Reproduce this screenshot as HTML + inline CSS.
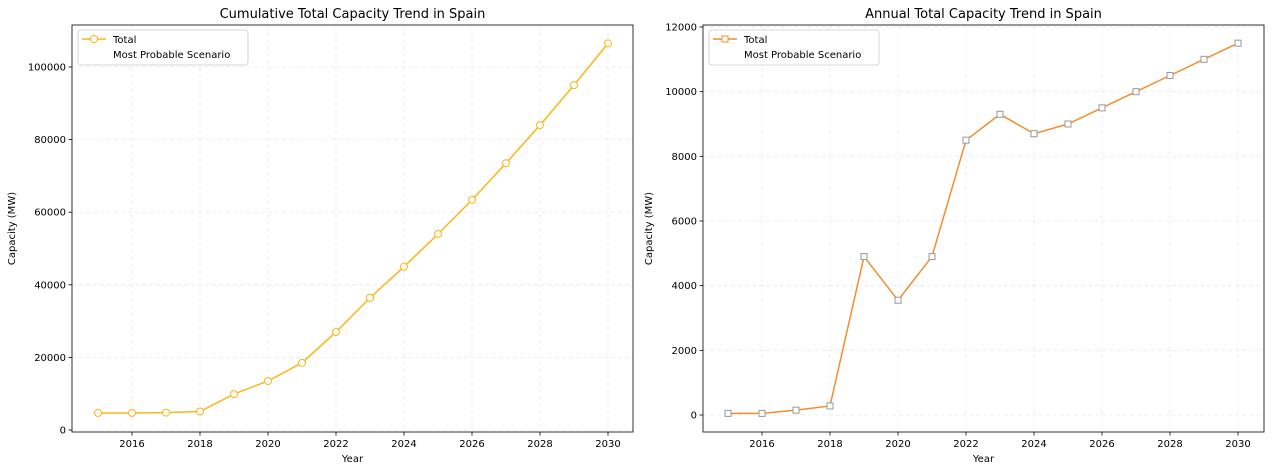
<!DOCTYPE html>
<html><head><meta charset="utf-8"><style>
body{margin:0;background:#fff;font-family:"DejaVu Sans","Liberation Sans",sans-serif;}
svg text{font-family:"DejaVu Sans","Liberation Sans",sans-serif;fill:#000;}
</style></head><body>
<svg id="chart" width="1272" height="472" xmlns="http://www.w3.org/2000/svg"></svg>
<script>
const years = [2015,2016,2017,2018,2019,2020,2021,2022,2023,2024,2025,2026,2027,2028,2029,2030];
const cumulativeValues = [4700,4700,4800,5100,9900,13500,18500,27000,36400,45000,54000,63400,73500,84000,95000,106500];
const annualValues = [50,50,150,280,4900,3550,4900,8500,9300,8700,9000,9500,10000,10500,11000,11500];
const xTicks = [2016,2018,2020,2022,2024,2026,2028,2030];
const cumTicks = [0,20000,40000,60000,80000,100000];
const annTicks = [0,2000,4000,6000,8000,10000,12000];

const svg = document.getElementById('chart');
const NS = 'http://www.w3.org/2000/svg';
function mk(tag, attrs, parent){const e=document.createElementNS(NS,tag);for(const k in attrs)e.setAttribute(k,attrs[k]);(parent||svg).appendChild(e);return e;}

function panel(cfg){
  const g = mk('g',{});
  
  
  const L=cfg.x0,R=cfg.x1,T=25,B=432;
  const xs = y => cfg.xa + (y-2015)*cfg.xk;
  const ys = v => cfg.y0 - v*cfg.yk;
  xTicks.forEach(t=>{const l=mk('line',{x1:xs(t),x2:xs(t),y1:T,y2:B,stroke:'#e8e8e8','stroke-dasharray':'4,3','stroke-width':0.8},g);
    });
  cfg.ticks.forEach(t=>{const l=mk('line',{x1:L,x2:R,y1:ys(t),y2:ys(t),stroke:'#e8e8e8','stroke-dasharray':'4,3','stroke-width':0.8},g);
    });
  const box=mk('rect',{x:L,y:T,width:R-L,height:B-T,fill:'none',stroke:'#000','stroke-width':0.8},g);
  
  xTicks.forEach(t=>{mk('line',{x1:xs(t),x2:xs(t),y1:B,y2:B+3.5,stroke:'#000','stroke-width':0.8},g);
    const tx=mk('text',{x:xs(t),y:B+15,'font-size':10,'text-anchor':'middle'},g);tx.textContent=t;
    });
  cfg.ticks.forEach(t=>{mk('line',{x1:L-3.5,x2:L,y1:ys(t),y2:ys(t),stroke:'#000','stroke-width':0.8},g);
    const tx=mk('text',{x:L-6,y:ys(t)+3.5,'font-size':10,'text-anchor':'end'},g);tx.textContent=t;
    });
  const title=mk('text',{x:(L+R)/2,y:18,'font-size':13,'text-anchor':'middle'},g);title.textContent=cfg.title;
  
  const xl=mk('text',{x:(L+R)/2,y:462,'font-size':10,'text-anchor':'middle'},g);xl.textContent='Year';
  
  const yx=cfg.ylx, yy=(T+B)/2;
  const yl=mk('text',{x:yx,y:yy,'font-size':10,'text-anchor':'middle',transform:`rotate(-90 ${yx} ${yy})`},g);yl.textContent='Capacity (MW)';
  
  const pts=years.map((y,i)=>xs(y)+','+ys(cfg.vals[i])).join(' ');
  const pl=mk('polyline',{points:pts,fill:'none',stroke:cfg.color,'stroke-width':1.5},g);
  
  years.forEach((y,i)=>{let m;
    if(cfg.marker==='circle') m=mk('circle',{cx:xs(y),cy:ys(cfg.vals[i]),r:3.5,fill:'#fff',stroke:cfg.color,'stroke-width':1},g);
    else m=mk('rect',{x:xs(y)-3,y:ys(cfg.vals[i])-3,width:6,height:6,fill:'#fff',stroke:'#999','stroke-width':1},g);
    });
  const lg=mk('g',{},g);
  mk('rect',{x:L+6,y:T+5,width:cfg.lw,height:35,rx:3,fill:'#fff',stroke:'#ccc','stroke-width':0.8},lg);
  mk('line',{x1:L+10,x2:L+34,y1:T+14,y2:T+14,stroke:cfg.color,'stroke-width':1.5},lg);
  if(cfg.marker==='circle') mk('circle',{cx:L+22,cy:T+14,r:3.5,fill:'#fff',stroke:cfg.color},lg);
  else mk('rect',{x:L+19,y:T+11,width:6,height:6,fill:'#fff',stroke:cfg.color},lg);
  const t1=mk('text',{x:L+41,y:T+18,'font-size':10},lg);t1.textContent='Total';
  
  const t2=mk('text',{x:L+41,y:T+33,'font-size':10},lg);t2.textContent='Most Probable Scenario';
  
}
panel({name:'cumulative-chart',x0:72,x1:633,xa:98,xk:34,y0:430,yk:0.00363,ticks:cumTicks,vals:cumulativeValues,
  color:'#FDB515',marker:'circle',title:'Cumulative Total Capacity Trend in Spain',ylx:15,lw:170});
panel({name:'annual-chart',x0:703,x1:1264,xa:728,xk:34,y0:415,yk:0.032333,ticks:annTicks,vals:annualValues,
  color:'#F28E2B',marker:'square',title:'Annual Total Capacity Trend in Spain',ylx:652,lw:170});
</script>
</body></html>
